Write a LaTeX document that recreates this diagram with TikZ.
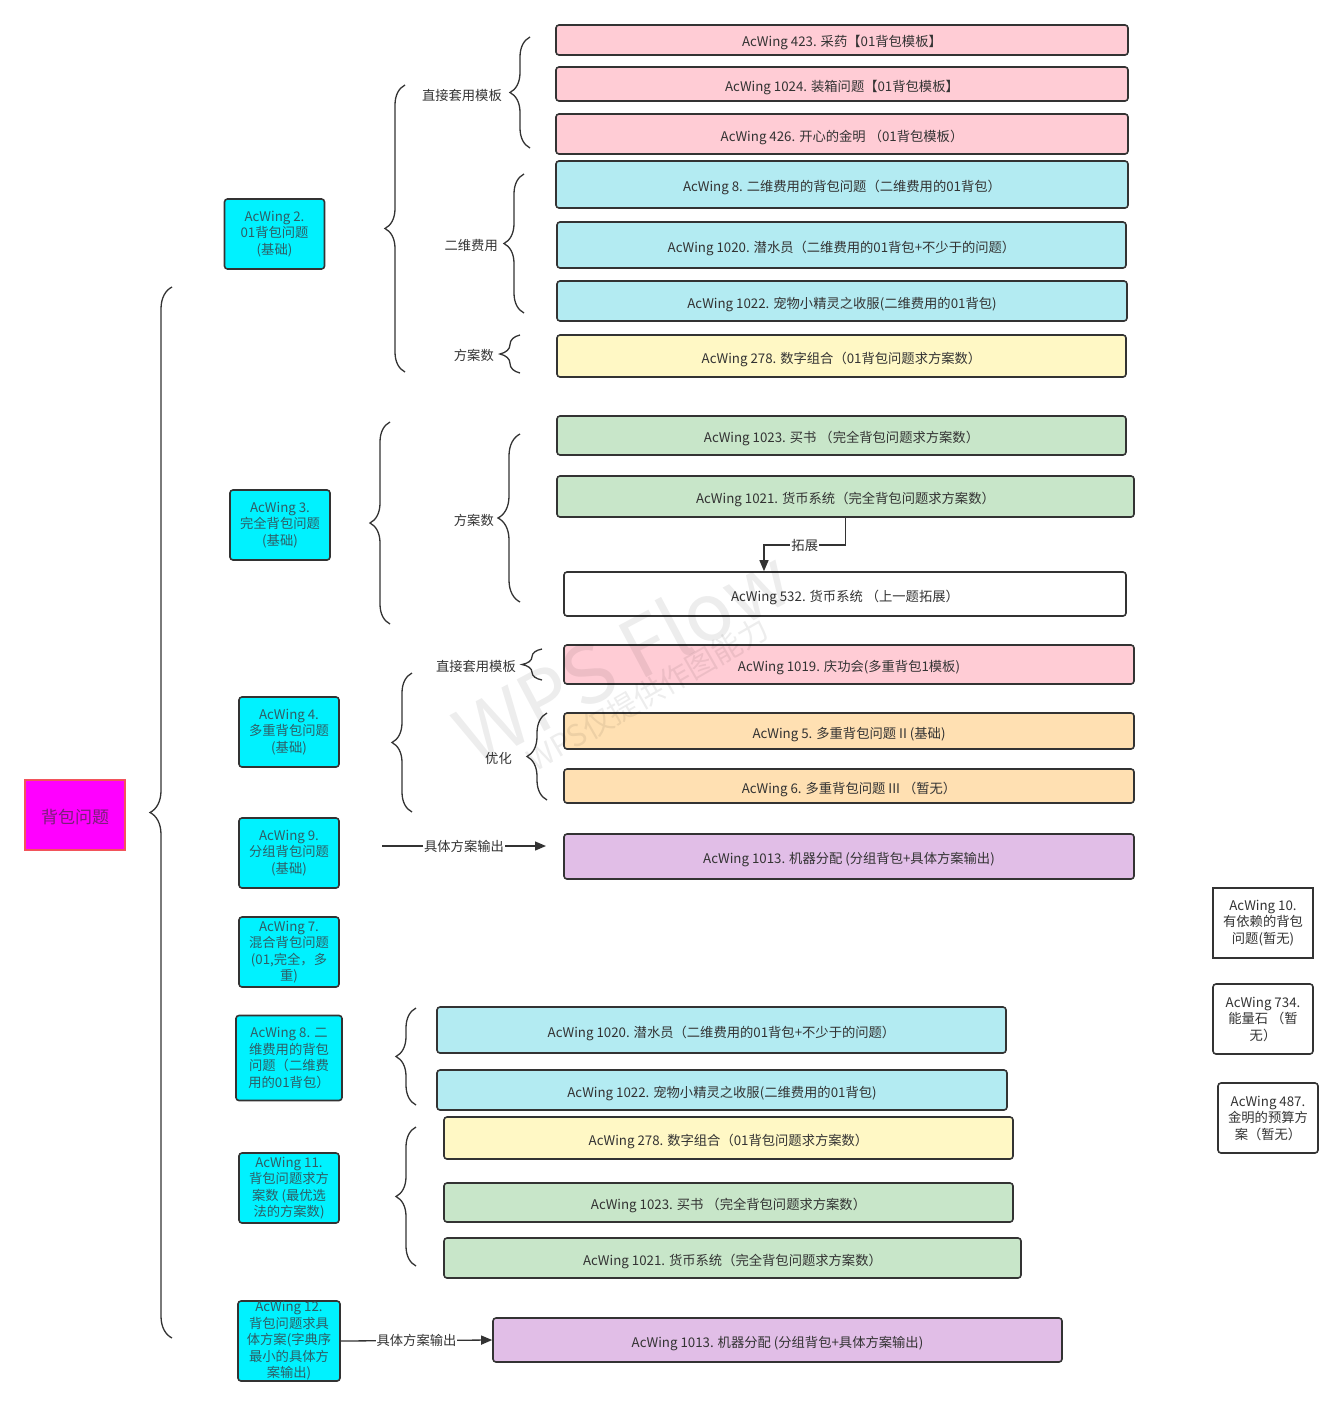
\documentclass[tikz,border=0pt]{standalone}
\usepackage{fontspec}
\setmainfont{Noto Sans CJK SC}
\usetikzlibrary{arrows.meta,decorations.pathreplacing}
\definecolor{inkgray}{HTML}{333333}
\definecolor{rootfill}{HTML}{FF00FF}
\definecolor{rootedge}{HTML}{F2545B}
\definecolor{rootink}{HTML}{7A1F7A}
\definecolor{topfill}{HTML}{00F2FF}
\definecolor{topink}{HTML}{2E5E66}
\definecolor{pinkfill}{HTML}{FFCCD5}
\definecolor{cyanfill}{HTML}{B3EBF2}
\definecolor{yellowfill}{HTML}{FFF8C5}
\definecolor{greenfill}{HTML}{C8E6C9}
\definecolor{orangefill}{HTML}{FFE0B2}
\definecolor{purplefill}{HTML}{E1BEE7}
\newcommand\boxfont{\fontsize{13.3}{16}\selectfont}
\newcommand\topicfont{\fontsize{13.3}{16.5}\selectfont}
\tikzset{
  task/.style={draw=inkgray,line width=1.6pt,rounded corners=3pt,text=inkgray,font=\boxfont,inner sep=0pt,text height=15pt,text depth=1pt},
  topic/.style={draw=inkgray,line width=1.6pt,rounded corners=3pt,inner sep=0pt,fill=topfill,text=topink,align=center,minimum width=100pt,minimum height=70pt,font=\topicfont},
  later/.style={topic,fill=white,text=inkgray},
  lbl/.style={text=inkgray,font=\boxfont,inner sep=0pt},
  curly/.style={draw=inkgray,line width=1.3pt,decorate,decoration={brace,amplitude=#1pt}},
  arr/.style={draw=inkgray,line width=1.3pt,-{Triangle[length=11pt,width=9pt]}},
}
\begin{document}
\begin{tikzpicture}[x=1pt,y=-1pt]
        \useasboundingbox (0,0) rectangle (1343,1405);
        \node[task,fill=rootfill,draw=rootedge,rounded corners=0pt,text=rootink,minimum width=100pt,minimum height=70pt,font=\fontsize{17}{19}\selectfont,text height=17pt,text depth=1pt] (root) at (75,815) {背包问题};
        \draw[curly=22] (172,1338) -- (172,287);
        \node[topic] (n2) at (274.5,234) {AcWing 2.\\01背包问题\\(基础)};
        \node[topic] (n3) at (280,525) {AcWing 3.\\完全背包问题\\(基础)};
        \node[topic] (n4) at (289,732) {AcWing 4.\\多重背包问题\\(基础)};
        \node[topic] (n9) at (289,853) {AcWing 9.\\分组背包问题\\(基础)};
        \node[topic] (n7) at (289,952) {AcWing 7.\\混合背包问题\\(01,完全，多\\重)};
        \node[topic,minimum width=106pt,minimum height=85pt] (n8) at (289,1058) {AcWing 8. 二\\维费用的背包\\问题（二维费\\用的01背包）};
        \node[topic] (n11) at (289,1188) {AcWing 11.\\背包问题求方\\案数 (最优选\\法的方案数)};
        \node[topic,minimum width=102pt,minimum height=80pt] (n12) at (289,1341) {AcWing 12.\\背包问题求具\\体方案(字典序\\最小的具体方\\案输出)};
        \node[later,rounded corners=0pt] (n10) at (1263,923) {AcWing 10.\\有依赖的背包\\问题(暂无)};
        \node[later] (n734) at (1263,1019) {AcWing 734.\\能量石 （暂\\无）};
        \node[later] (n487) at (1268,1118) {AcWing 487.\\金明的预算方\\案（暂无）};
        \draw[curly=20] (405,372) -- (405,85);
        \draw[curly=20] (530,148) -- (530,37);
        \node[lbl,anchor=east] (l2a) at (502,95) {直接套用模板};
        \draw[curly=20] (524,313) -- (524,174);
        \node[lbl,anchor=east] (l2b) at (498,245) {二维费用};
        \draw[curly=20] (520,373) -- (520,335);
        \node[lbl,anchor=east] (l2c) at (494,355) {方案数};
        \node[task,fill=pinkfill,minimum width=572pt,minimum height=30pt] (p423) at (842,40) {AcWing 423. 采药【01背包模板】};
        \node[task,fill=pinkfill,minimum width=572pt,minimum height=34pt] (p1024) at (842,84) {AcWing 1024. 装箱问题【01背包模板】};
        \node[task,fill=pinkfill,minimum width=572pt,minimum height=40pt] (p426) at (842,134) {AcWing 426. 开心的金明 （01背包模板）};
        \node[task,fill=cyanfill,minimum width=572pt,minimum height=47pt] (c8) at (842,184.5) {AcWing 8. 二维费用的背包问题（二维费用的01背包）};
        \node[task,fill=cyanfill,minimum width=569pt,minimum height=46pt] (c1020) at (841.5,245) {AcWing 1020. 潜水员（二维费用的01背包+不少于的问题）};
        \node[task,fill=cyanfill,minimum width=570pt,minimum height=40pt] (c1022) at (842,301) {AcWing 1022. 宠物小精灵之收服(二维费用的01背包)};
        \node[task,fill=yellowfill,minimum width=569pt,minimum height=42pt] (y278) at (841.5,356) {AcWing 278. 数字组合（01背包问题求方案数）};
        \draw[curly=20] (390,624) -- (390,422);
        \draw[curly=22] (520,602) -- (520,434);
        \node[lbl,anchor=east] (l3a) at (494,520) {方案数};
        \node[task,fill=greenfill,minimum width=569pt,minimum height=39pt] (g1023) at (841.5,435.5) {AcWing 1023. 买书 （完全背包问题求方案数）};
        \node[task,fill=greenfill,minimum width=577pt,minimum height=41pt] (g1021) at (845.5,496.5) {AcWing 1021. 货币系统（完全背包问题求方案数）};
        \node[task,fill=white,minimum width=562pt,minimum height=44pt] (w532) at (845,594) {AcWing 532. 货币系统 （上一题拓展）};
        \coordinate (bend) at (764,545);
        \draw[arr] (g1021.south) |- node[lbl,pos=0.75,fill=white,inner sep=1pt] (ext) {拓展} (bend) -- (bend |- w532.north);
        \draw[curly=20] (412,812) -- (412,673);
        \draw[curly=20] (542,680) -- (542,649);
        \node[lbl,anchor=east] (l4a) at (516,666) {直接套用模板};
        \draw[curly=20] (547,800) -- (547,713);
        \node[lbl,anchor=east] (l4b) at (512,758) {优化};
        \node[task,fill=pinkfill,minimum width=570pt,minimum height=39pt] (p1019) at (849,664.5) {AcWing 1019. 庆功会(多重背包1模板)};
        \node[task,fill=orangefill,minimum width=570pt,minimum height=36pt] (o5) at (849,731) {AcWing 5. 多重背包问题 II (基础)};
        \node[task,fill=orangefill,minimum width=570pt,minimum height=34pt] (o6) at (849,786) {AcWing 6. 多重背包问题 III （暂无）};
        \coordinate (out9a) at (382,846);
        \coordinate (out9b) at (546,846);
        \draw[arr] (out9a) -- node[lbl,fill=white,inner sep=1pt] (l9) {具体方案输出} (out9b);
        \node[task,fill=purplefill,minimum width=570pt,minimum height=45pt] (v1013) at (849,856.5) {AcWing 1013. 机器分配 (分组背包+具体方案输出)};
        \draw[curly=20] (416,1105) -- (416,1008);
        \node[task,fill=cyanfill,minimum width=569pt,minimum height=46pt] (c1020b) at (721.5,1030) {AcWing 1020. 潜水员（二维费用的01背包+不少于的问题）};
        \node[task,fill=cyanfill,minimum width=570pt,minimum height=40pt] (c1022b) at (722,1090) {AcWing 1022. 宠物小精灵之收服(二维费用的01背包)};
        \draw[curly=20] (416,1266) -- (416,1127);
        \node[task,fill=yellowfill,minimum width=569pt,minimum height=42pt] (y278b) at (728.5,1138) {AcWing 278. 数字组合（01背包问题求方案数）};
        \node[task,fill=greenfill,minimum width=569pt,minimum height=39pt] (g1023b) at (728.5,1202.5) {AcWing 1023. 买书 （完全背包问题求方案数）};
        \node[task,fill=greenfill,minimum width=577pt,minimum height=40pt] (g1021b) at (732.5,1258) {AcWing 1021. 货币系统（完全背包问题求方案数）};
        \node[task,fill=purplefill,minimum width=569pt,minimum height=44pt] (v1013b) at (777.5,1340) {AcWing 1013. 机器分配 (分组背包+具体方案输出)};
        \draw[arr] (n12.east) -- node[lbl,fill=white,inner sep=1pt] (l12) {具体方案输出} (v1013b.west);
        \node[rotate=28,opacity=0.07,font=\fontsize{80}{80}\selectfont] (mark) at (622,655) {WPS Flow};
        \node[rotate=30,opacity=0.07,font=\fontsize{30}{30}\selectfont] (mark2) at (648,694) {WPS仅提供作图能力};
      \end{tikzpicture}
\end{document}
